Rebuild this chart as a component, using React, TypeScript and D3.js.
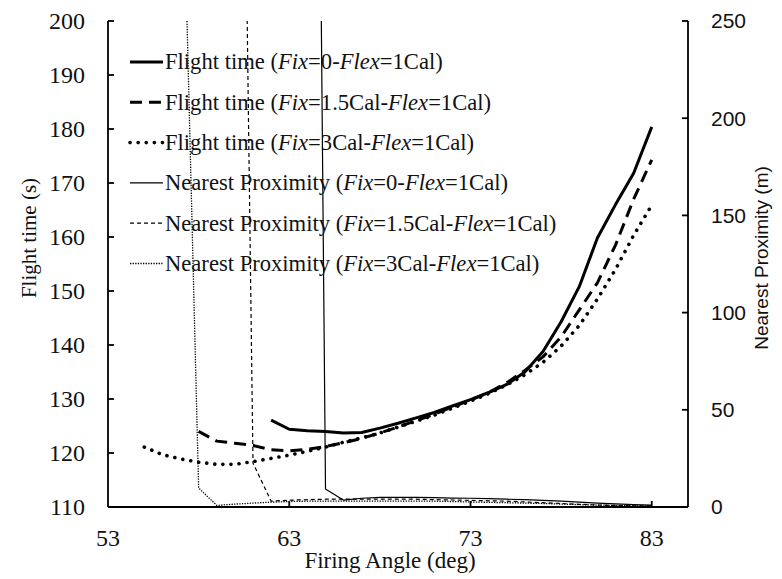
import React from "react";
import * as d3 from "d3";

// ---- data ----
const ftAngles0 = d3.range(62, 84);
const flightTime0 = [126.1, 124.4, 124.1, 124.0, 123.7, 123.8, 124.6, 125.5, 126.5, 127.5, 128.7, 129.9, 131.2, 132.7, 135.0, 138.8, 144.3, 150.8, 159.8, 166.0, 171.8, 180.4];
const ftAngles15 = d3.range(58, 84);
const flightTime15 = [124.0, 122.2, 121.8, 121.4, 120.6, 120.4, 120.7, 121.2, 121.9, 122.7, 123.7, 124.8, 126.0, 127.2, 128.5, 129.8, 131.2, 133.0, 135.3, 137.8, 141.5, 146.5, 151.5, 158.5, 167.0, 174.3];
const ftAngles3 = d3.range(55, 84);
const flightTime3 = [121.1, 119.7, 118.9, 118.3, 117.9, 117.9, 118.4, 119.0, 119.6, 120.3, 121.1, 122.0, 122.8, 123.7, 124.8, 125.9, 127.0, 128.3, 129.6, 131.0, 132.6, 134.5, 136.8, 139.8, 143.6, 148.5, 154.0, 160.3, 165.9];

const npAngles0 = d3.range(64, 84);
const proximity0 = [1055, 9.3, 3.5, 4.5, 5, 5, 5, 4.8, 4.6, 4.5, 4.3, 4, 3.8, 3.4, 3, 2.5, 2, 1.6, 1.2, 1];
const npAngles15 = d3.range(60, 84);
const proximity15 = [733, 22.6, 3, 3.5, 3.8, 4, 4, 4, 4, 4, 4, 3.8, 3.6, 3.4, 3.2, 3, 2.6, 2.2, 1.8, 1.4, 1.0, 0.8, 0.6, 0.5];
const npAngles3 = d3.range(57, 84);
const proximity3 = [385, 9.8, 0.8, 1.5, 2, 2.5, 2.8, 3, 3, 3, 3, 3, 3, 3, 3, 2.8, 2.6, 2.4, 2.2, 2, 1.8, 1.5, 1.2, 1.0, 0.8, 0.6, 0.5];

const xTicks = [53, 63, 73, 83];
const yLeftTicks = [110, 120, 130, 140, 150, 160, 170, 180, 190, 200];
const yRightTicks = [0, 50, 100, 150, 200, 250];

const legendItems = [
  { pre: "Flight time (", mid: "0", kind: "ft0" },
  { pre: "Flight time (", mid: "1.5Cal", kind: "ft15" },
  { pre: "Flight time (", mid: "3Cal", kind: "ft3" },
  { pre: "Nearest Proximity (", mid: "0", kind: "np0" },
  { pre: "Nearest Proximity (", mid: "1.5Cal", kind: "np15" },
  { pre: "Nearest Proximity (", mid: "3Cal", kind: "np3" },
];

const styles: Record<string, { w: number; dash?: string; cap?: string }> = {
  ft0: { w: 3 },
  ft15: { w: 3, dash: "12 7" },
  ft3: { w: 3.6, dash: "0.1 8", cap: "round" },
  np0: { w: 1.2 },
  np15: { w: 1.2, dash: "4 3" },
  np3: { w: 1.3, dash: "1.3 1.3" },
};

const W = 782, H = 579;
const L = 108, R = 688, T = 21, B = 507;

export default function App() {
  const x = d3.scaleLinear().domain([53, 85]).range([L, R]);
  const yL = d3.scaleLinear().domain([110, 200]).range([B, T]);
  const yR = d3.scaleLinear().domain([0, 250]).range([B, T]);

  const lineL = d3.line<[number, number]>().x((d) => x(d[0])).y((d) => yL(d[1]));
  const lineR = d3.line<[number, number]>().x((d) => x(d[0])).y((d) => yR(d[1]));
  const zip = (a: number[], b: number[]) => a.map((v, i) => [v, b[i]] as [number, number]);

  const serif = "'Liberation Serif', 'Times New Roman', serif";
  const sans = "'Liberation Sans', Arial, sans-serif";

  const seriesPath = (d: string | null, k: string) => {
    const s = styles[k];
    return (
      <path d={d || ""} fill="none" stroke="#000" strokeWidth={s.w} strokeDasharray={s.dash} strokeLinecap={(s.cap as any) || "butt"} strokeLinejoin="round" />
    );
  };

  return (
    <svg width={W} height={H} style={{ position: "absolute", left: 0, top: 0, background: "#fff" }}>
      <rect width={W} height={H} fill="#fff" />
      <defs>
        <clipPath id="plot">
          <rect x={L} y={T} width={R - L} height={B - T} />
        </clipPath>
      </defs>
      <g clipPath="url(#plot)">
        {seriesPath(lineR(zip(npAngles0, proximity0)), "np0")}
        {seriesPath(lineR(zip(npAngles15, proximity15)), "np15")}
        {seriesPath(lineR(zip(npAngles3, proximity3)), "np3")}
        {seriesPath(lineL(zip(ftAngles0, flightTime0)), "ft0")}
        {seriesPath(lineL(zip(ftAngles15, flightTime15)), "ft15")}
        {seriesPath(lineL(zip(ftAngles3, flightTime3)), "ft3")}
      </g>
      {/* axes */}
      <g stroke="#000" strokeWidth={1.8} fill="none">
        <line x1={L} y1={T} x2={L} y2={B} />
        <line x1={R} y1={T} x2={R} y2={B} />
        <line x1={L} y1={B} x2={R} y2={B} />
        {yLeftTicks.map((t) => (
          <line key={"l" + t} x1={L} x2={L + 6} y1={yL(t)} y2={yL(t)} />
        ))}
        {yRightTicks.map((t) => (
          <line key={"r" + t} x1={R - 6} x2={R} y1={yR(t)} y2={yR(t)} />
        ))}
        {xTicks.slice(1).map((t) => (
          <line key={"x" + t} x1={x(t)} x2={x(t)} y1={B} y2={B - 6} />
        ))}
      </g>
      <g fontFamily={serif} fontSize={24} fill="#111">
        {yLeftTicks.map((t) => (
          <text key={t} x={85} y={yL(t)} dy="0.35em" textAnchor="end">{t}</text>
        ))}
        {xTicks.map((t) => (
          <text key={t} x={x(t)} y={538} dy="0.35em" textAnchor="middle">{t}</text>
        ))}
        <text x={390} y={568} textAnchor="middle" fontSize={23}>Firing Angle (deg)</text>
        <text transform={`translate(36,238) rotate(-90)`} textAnchor="middle" fontSize={21}>Flight time (s)</text>
      </g>
      <g fontFamily={sans} fontSize={21} fill="#111">
        {yRightTicks.map((t) => (
          <text key={t} x={711} y={yR(t)} dy="0.35em">{t}</text>
        ))}
        <text transform={`translate(768,258) rotate(-90)`} textAnchor="middle" fontSize={19}>Nearest Proximity (m)</text>
      </g>
      {/* legend */}
      <g fontFamily={serif} fontSize={22.6} fill="#111">
        {legendItems.map((it, i) => {
          const cy = 62 + i * 40.3;
          const s = styles[it.kind];
          return (
            <g key={i}>
              <line x1={130} x2={163} y1={cy} y2={cy} stroke="#000" strokeWidth={s.w} strokeDasharray={s.dash} strokeLinecap={(s.cap as any) || "butt"} />
              <text x={165} y={cy} dy="0.33em">
                {it.pre}
                <tspan fontStyle="italic">Fix</tspan>={it.mid}-<tspan fontStyle="italic">Flex</tspan>=1Cal)
              </text>
            </g>
          );
        })}
      </g>
    </svg>
  );
}
